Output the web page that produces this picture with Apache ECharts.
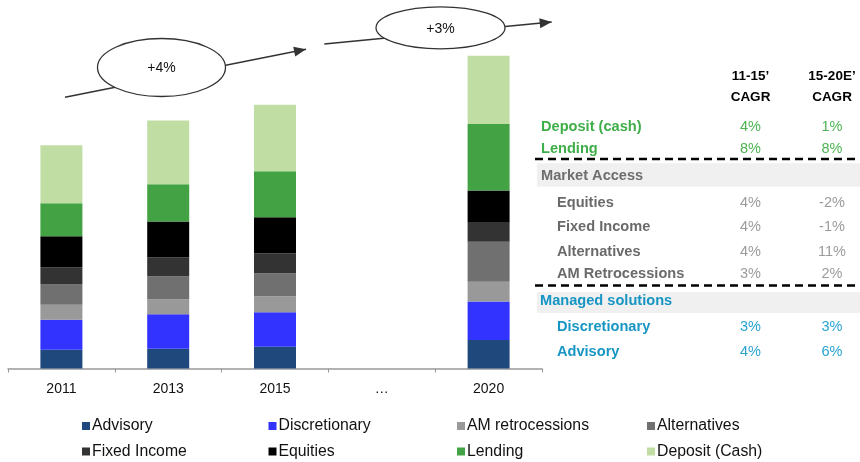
<!DOCTYPE html>
<html><head><meta charset="utf-8">
<script src="https://cdn.jsdelivr.net/npm/echarts@6/dist/echarts.min.js"></script>
<style>html,body{margin:0;padding:0;background:#fff}#c{width:860px;height:462px}</style>
</head><body><div id="c"></div>
<script>
// ---------- data ----------
const categories = ['2011', '2013', '2015', '…', '2020'];
const seriesNames = ['Advisory', 'Discretionary', 'AM retrocessions', 'Alternatives', 'Fixed Income', 'Equities', 'Lending', 'Deposit (Cash)'];
const advisory        = [18.7, 19.7, 21.7, '-', 28.4];
const discretionary   = [30.0, 34.6, 34.6, '-', 38.6];
const amRetrocessions = [15.0, 15.0, 16.0, '-', 19.7];
const alternatives    = [20.3, 23.0, 23.0, '-', 40.0];
const fixedIncome     = [17.0, 18.7, 20.0, '-', 19.0];
const equities        = [31.3, 36.0, 36.0, '-', 32.3];
const lending         = [33.0, 37.3, 46.0, '-', 66.4];
const deposit         = [58.0, 63.7, 66.4, '-', 68.3];
const seriesValues = [advisory, discretionary, amRetrocessions, alternatives, fixedIncome, equities, lending, deposit];

const growthLabels = ['+4%', '+3%'];

const tableHeader1 = ['11-15\u2019', '15-20E\u2019'];
const tableHeader2 = ['CAGR', 'CAGR'];
const rowLabels = ['Deposit (cash)', 'Lending', 'Market Access', 'Equities', 'Fixed Income', 'Alternatives', 'AM Retrocessions', 'Managed solutions', 'Discretionary', 'Advisory'];
const cagr1115  = ['4%', '8%', '', '4%', '4%', '4%', '3%', '', '3%', '4%'];
const cagr1520  = ['1%', '8%', '', '-2%', '-1%', '11%', '2%', '', '3%', '6%'];
const rowKinds  = ['green', 'green', 'grayHead', 'gray', 'gray', 'gray', 'gray', 'blueHead', 'blue', 'blue'];

// ---------- styles ----------
const FONT = '"Liberation Sans", Arial, Helvetica, sans-serif';
const colors = ['#1f497d', '#3333ff', '#999999', '#707070', '#333333', '#000000', '#43a243', '#c0dea3'];
const kindStyle = {
  green:    { x: 541, label: '#3fae49', value: '#4db352' },
  grayHead: { x: 541, label: '#6e6e6e', value: '#9b9b9b' },
  gray:     { x: 557, label: '#6a6a6a', value: '#9b9b9b' },
  blueHead: { x: 540, label: '#1795c3', value: '#29a3d0' },
  blue:     { x: 557, label: '#1795c3', value: '#29a3d0' }
};
const rowY = [126.7, 149.3, 176, 202.7, 226.7, 252, 274, 301.3, 327.3, 352];
const colX = [750.5, 832];

const chart = echarts.init(document.getElementById('c'), null, { renderer: 'canvas' });

const series = seriesNames.map((n, i) => ({
  name: n, type: 'bar', stack: 'total', barWidth: 42,
  itemStyle: { color: colors[i] },
  data: seriesValues[i]
}));

// legend: 8 single-item legends in a 4x2 grid
const legCols = [82, 268.5, 457, 647];
const legRows = [417, 442.5];
const legends = seriesNames.map((n, i) => ({
  data: [n], left: legCols[i % 4], top: legRows[Math.floor(i / 4)],
  padding: 0, itemWidth: 8, itemHeight: 8, icon: 'rect', selectedMode: false,
  textStyle: { fontFamily: FONT, fontSize: 15.8, color: '#111', lineHeight: 18, padding: [0, 0, 0, -3] }
}));

// graphics: growth arrows + table
const graphic = [];
function arrow(x1, y1, x2, y2) {
  graphic.push({ type: 'line', shape: { x1, y1, x2, y2 }, style: { stroke: '#333', lineWidth: 1.4 }, z: 10 });
  const a = Math.atan2(y2 - y1, x2 - x1), L = 12, W = 5;
  const bx = x2 - L * Math.cos(a), by = y2 - L * Math.sin(a);
  graphic.push({ type: 'polygon', shape: { points: [[x2, y2], [bx + W * Math.sin(a), by - W * Math.cos(a)], [bx - W * Math.sin(a), by + W * Math.cos(a)]] }, style: { fill: '#333' }, z: 10 });
}
function bubble(cx, cy, rx, ry, txt) {
  graphic.push({ type: 'ellipse', shape: { cx, cy, rx, ry }, style: { fill: '#fff', stroke: '#333', lineWidth: 1.3 }, z: 11 });
  graphic.push({ type: 'text', x: cx, y: cy + 1, style: { text: txt, font: '14px ' + FONT, fill: '#111', align: 'center', verticalAlign: 'middle' }, z: 12 });
}
arrow(65, 97.3, 306, 49.3);
bubble(161.5, 67.5, 64, 29, growthLabels[0]);
arrow(324.3, 44, 551.7, 22);
bubble(440.5, 27.8, 64.5, 21, growthLabels[1]);

// table
[[163.3, 186.7], [292, 313]].forEach(b => graphic.push({ type: 'rect', shape: { x: 537, y: b[0], width: 323, height: b[1] - b[0] }, style: { fill: '#f0f0f0' }, z: 1 }));
[159, 285.5].forEach(y => graphic.push({ type: 'line', shape: { x1: 535, y1: y, x2: 860, y2: y }, style: { stroke: '#000', lineWidth: 2.6, lineDash: [8, 5] }, z: 2 }));
tableHeader1.forEach((t, i) => {
  graphic.push({ type: 'text', x: colX[i], y: 76.7, style: { text: t, font: 'bold 13.5px ' + FONT, fill: '#000', align: 'center', verticalAlign: 'middle' }, z: 3 });
  graphic.push({ type: 'text', x: colX[i], y: 97.7, style: { text: tableHeader2[i], font: 'bold 13.5px ' + FONT, fill: '#000', align: 'center', verticalAlign: 'middle' }, z: 3 });
});
rowLabels.forEach((lab, r) => {
  const k = kindStyle[rowKinds[r]];
  graphic.push({ type: 'text', x: k.x, y: rowY[r], style: { text: lab, font: 'bold 14.6px ' + FONT, fill: k.label, align: 'left', verticalAlign: 'middle' }, z: 3 });
  [cagr1115[r], cagr1520[r]].forEach((v, c) => {
    if (v) graphic.push({ type: 'text', x: colX[c], y: rowY[r], style: { text: v, font: '14.5px ' + FONT, fill: k.value, align: 'center', verticalAlign: 'middle' }, z: 3 });
  });
});

chart.setOption({
  animation: false,
  backgroundColor: '#fff',
  textStyle: { fontFamily: FONT },
  grid: { left: 8, right: 318, top: 48.5, bottom: 93.5, containLabel: false, outerBoundsMode: 'none' },
  xAxis: {
    type: 'category', data: categories, boundaryGap: true,
    axisLine: { lineStyle: { color: '#999', width: 1.5 } },
    axisTick: { show: true, alignWithLabel: false, length: 4, lineStyle: { color: '#999' } },
    axisLabel: { fontSize: 14, color: '#111', margin: 14, fontFamily: FONT }
  },
  yAxis: { type: 'value', min: 0, max: 320, show: false, splitLine: { show: false } },
  legend: legends,
  series,
  graphic
});
</script></body></html>
